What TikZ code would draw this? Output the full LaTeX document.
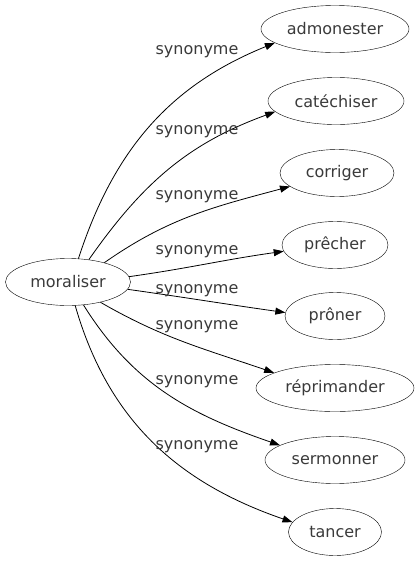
\documentclass[tikz,border=0pt]{standalone}
\usepackage{fontspec}
\setmainfont{DejaVu Sans}
\usetikzlibrary{shapes.geometric,arrows.meta}
\definecolor{txt}{HTML}{3A3A3A}
\begin{document}
\begin{tikzpicture}[x=1pt,y=-1pt,
  nd/.style={draw,ellipse,inner sep=0pt,minimum height=47pt,text=txt,font=\fontsize{16}{18}\selectfont},
  lbl/.style={font=\fontsize{16}{18}\selectfont,inner sep=0pt,text=txt},
  edge/.style={-{Triangle[length=10pt,width=7pt]},line width=0.8pt}]
\useasboundingbox (0,0) rectangle (419,563);
\node[nd,minimum width=125pt] (m) at (68,282) {moraliser};
\node[nd,minimum width=148pt] (a1) at (335,29) {admonester};
\node[nd,minimum width=136pt] (a2) at (336,101) {catéchiser};
\node[nd,minimum width=114pt] (a3) at (337,173) {corriger};
\node[nd,minimum width=106pt] (a4) at (335,245) {prêcher};
\node[nd,minimum width=100pt] (a5) at (335,316) {prôner};
\node[nd,minimum width=158pt] (a6) at (335,388) {réprimander};
\node[nd,minimum width=140pt] (a7) at (335,460) {sermonner};
\node[nd,minimum width=93pt] (a8) at (335,532) {tancer};
\draw[edge] (m.66) to[out=72,in=202] (a1.193);
\draw[edge] (m.47) to[out=55,in=200] (a2.190);
\draw[edge] (m.28) to[out=35,in=195] (a3.196);
\draw[edge] (m.5) to[out=8,in=188] (a4.187);
\draw[edge] (m.-7) to[out=-8,in=172] (a5.176);
\draw[edge] (m.-32) to[out=-30,in=161] (a6.166);
\draw[edge] (m.-56) to[out=-58,in=161] (a7.165);
\draw[edge] (m.-73) to[out=-74,in=161] (a8.167);
\node[lbl] (l1) at (197,52) {synonyme};
\node[lbl] (l2) at (197,132) {synonyme};
\node[lbl] (l3) at (197,197) {synonyme};
\node[lbl] (l4) at (197,252) {synonyme};
\node[lbl] (l5) at (197,291) {synonyme};
\node[lbl] (l6) at (197,327) {synonyme};
\node[lbl] (l7) at (197,382) {synonyme};
\node[lbl] (l8) at (197,447) {synonyme};
\end{tikzpicture}
\end{document}
